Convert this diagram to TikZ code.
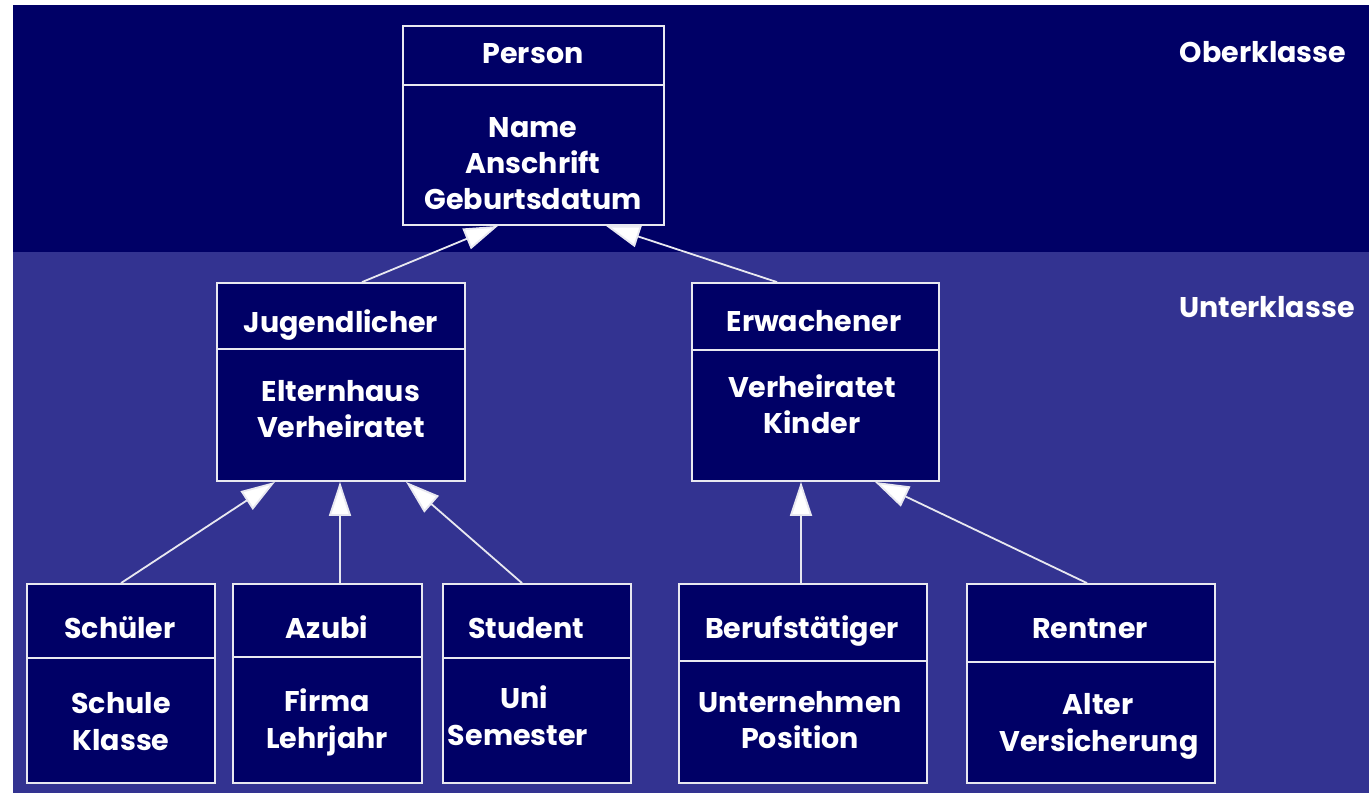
\documentclass[tikz,border=0pt]{standalone}
\usepackage{fontspec}
\setmainfont{Poppins}
\usetikzlibrary{arrows.meta}
\definecolor{darkbg}{RGB}{0,0,102}
\definecolor{lightbg}{RGB}{51,51,145}
\definecolor{boxfill}{RGB}{0,0,102}
\definecolor{edge}{RGB}{232,232,240}
\tikzset{
  clsbox/.style={draw=edge, line width=1.8pt, fill=boxfill, inner sep=0pt},
  divider/.style={draw=edge, line width=1.8pt},
  txt/.style={text=white, font=\fontsize{28.5}{34}\selectfont\bfseries, anchor=base, inner sep=0pt},
  inh/.style={draw=edge, line width=1.8pt, -{Triangle[length=34pt,width=22pt,fill=white]}},
}
\newcommand\umlcls[6]{% name, x1, y1, x2, y2, divy
  \node[clsbox, minimum width=#4-#2, minimum height=#5-#3] (#1) at ({(#2+#4)/2},{(#3+#5)/2}) {};
  \draw[divider] (#1.west |- 0,#6) -- (#1.east |- 0,#6);
}
\begin{document}
\begin{tikzpicture}[x=1pt,y=-1pt]
\useasboundingbox (0,0) rectangle (1369,794);
\fill[white] (0,0) rectangle (1369,794);
\fill[darkbg] (13,5) rectangle (1369,252);
\fill[lightbg] (13,252) rectangle (1369,793);

\node[txt] (ober) at (1263,63) {Oberklasse};
\node[txt] (unter) at (1267,318) {Unterklasse};

% classes
\umlcls{per}{403}{26}{664}{225}{85}
\umlcls{jug}{217}{283}{465}{481}{349}
\umlcls{erw}{692}{283}{939}{481}{350}
\umlcls{sch}{27}{584}{215}{783}{658}
\umlcls{azu}{233}{584}{422}{783}{657}
\umlcls{stu}{443}{584}{631}{783}{658}
\umlcls{ber}{679}{584}{927}{783}{661}
\umlcls{ren}{967}{584}{1215}{783}{662}

% Person
\node[txt] (perT) at (533,64) {Person};
\node[txt] (perA) at (533,138) {Name};
\node[txt] (perB) at (533,174) {Anschrift};
\node[txt] (perC) at (533,210) {Geburtsdatum};
% Jugendlicher
\node[txt] (jugT) at (341,333) {Jugendlicher};
\node[txt] (jugA) at (341,402) {Elternhaus};
\node[txt] (jugB) at (341,438) {Verheiratet};
% Erwachener
\node[txt] (erwT) at (814,332) {Erwachener};
\node[txt] (erwA) at (812,398) {Verheiratet};
\node[txt] (erwB) at (812,434) {Kinder};
% Schueler
\node[txt] (schT) at (120,638) {Schüler};
\node[txt] (schA) at (121,713) {Schule};
\node[txt] (schB) at (121,750) {Klasse};
% Azubi
\node[txt] (azuT) at (327,638) {Azubi};
\node[txt] (azuA) at (327,711) {Firma};
\node[txt] (azuB) at (327,748) {Lehrjahr};
% Student
\node[txt] (stuT) at (526,638) {Student};
\node[txt] (stuA) at (524,708) {Uni};
\node[txt] (stuB) at (518,745) {Semester};
% Berufstaetiger
\node[txt] (berT) at (802,638) {Berufstätiger};
\node[txt] (berA) at (800,712) {Unternehmen};
\node[txt] (berB) at (800,748) {Position};
% Rentner
\node[txt] (renT) at (1090,638) {Rentner};
\node[txt] (renA) at (1098,714) {Alter};
\node[txt] (renB) at (1099,751) {Versicherung};

% inheritance arrows
\draw[inh] (362,0 |- jug.north) -- (498,0 |- per.south);
\draw[inh] (777,0 |- erw.north) -- (606,0 |- per.south);
\draw[inh] (121,0 |- sch.north) -- (275,0 |- jug.south);
\draw[inh] (340,0 |- azu.north) -- (340,0 |- jug.south);
\draw[inh] (522,0 |- stu.north) -- (406,0 |- jug.south);
\draw[inh] (801,0 |- ber.north) -- (801,0 |- erw.south);
\draw[inh] (1087,0 |- ren.north) -- (875,0 |- erw.south);
\end{tikzpicture}
\end{document}
